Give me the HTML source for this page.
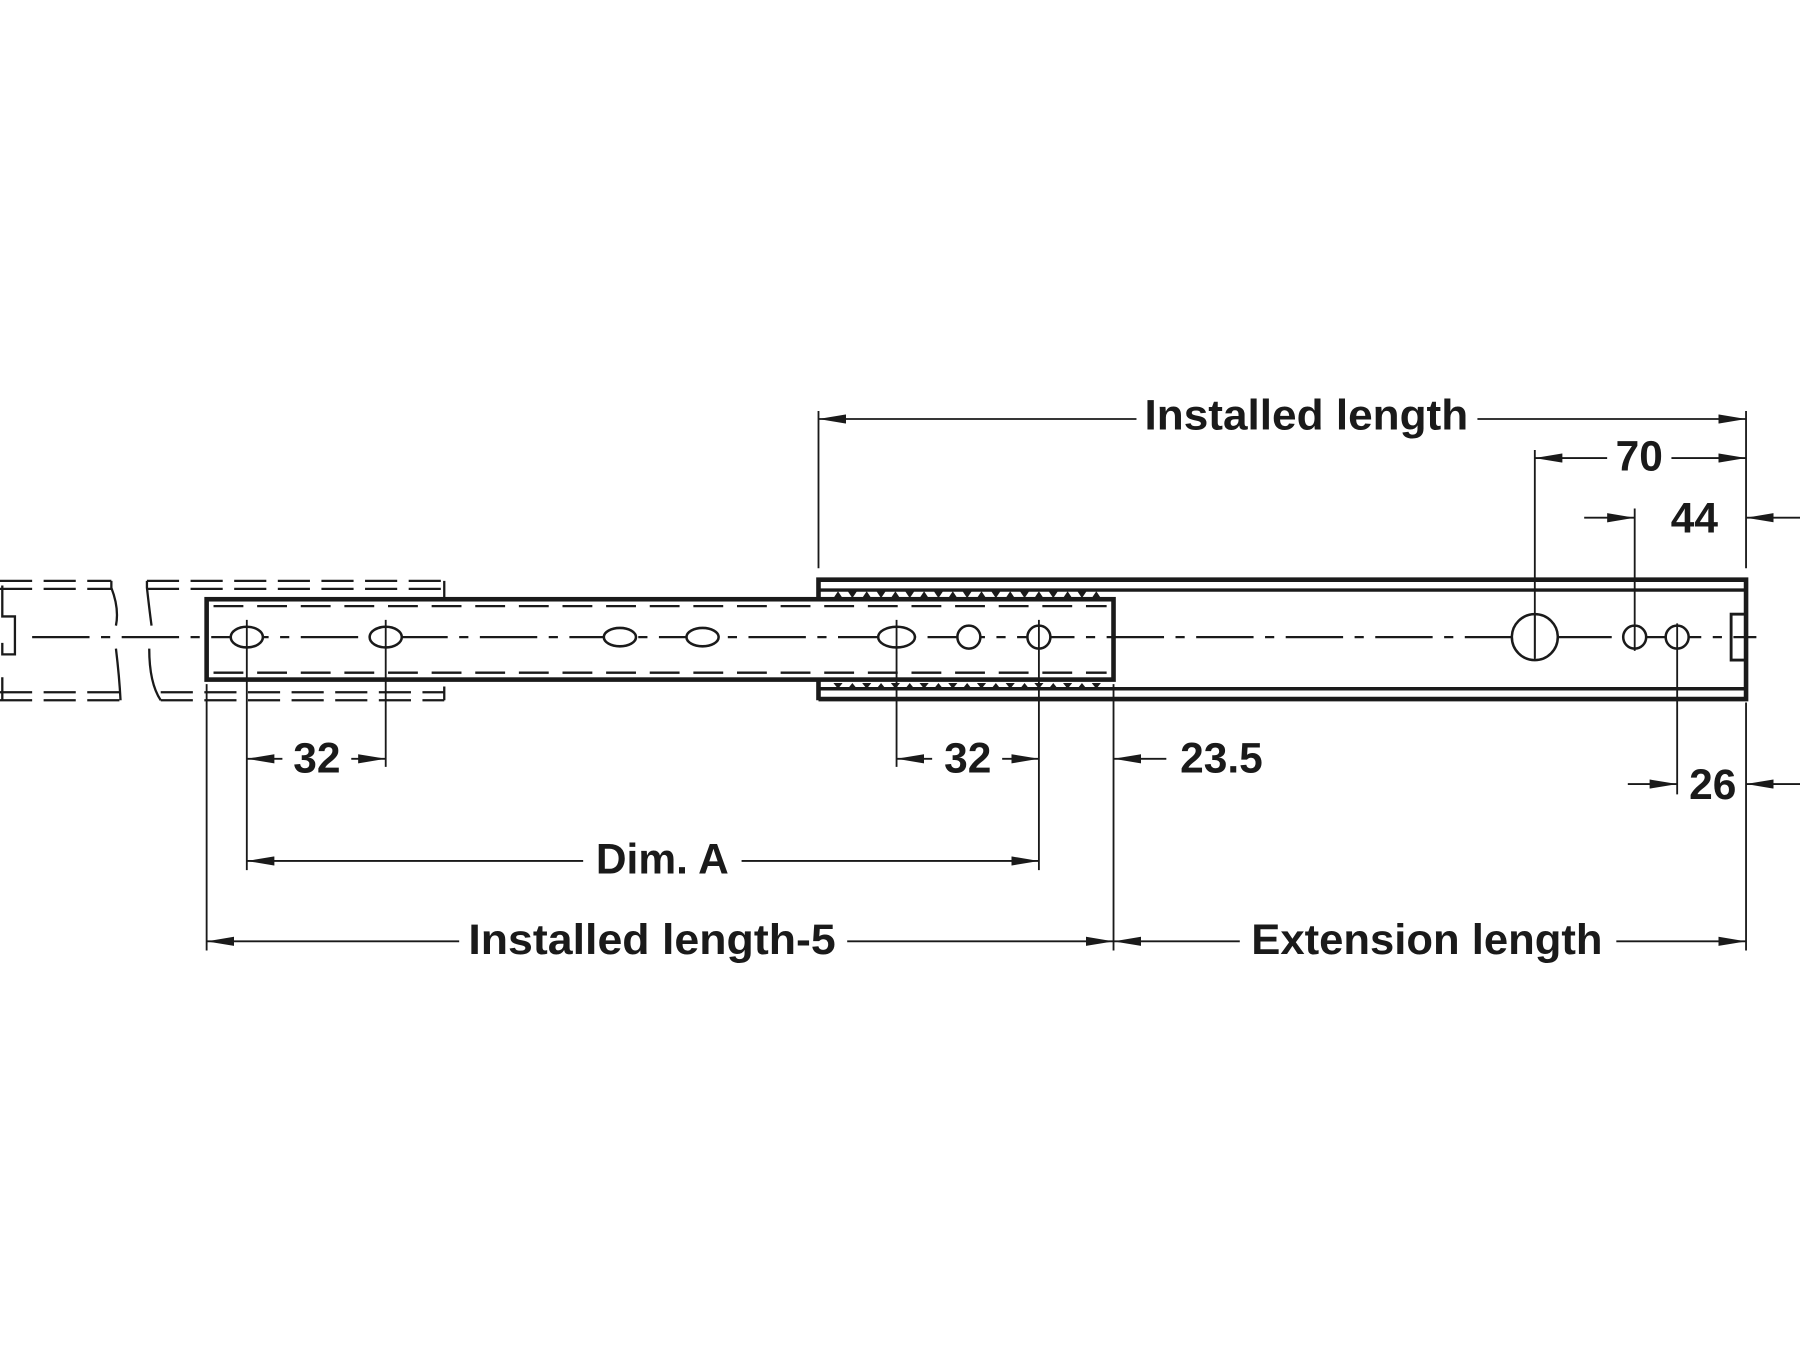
<!DOCTYPE html>
<html><head><meta charset="utf-8"><style>
html,body{margin:0;padding:0;background:#fff}
svg{display:block}
text{font-family:"Liberation Sans",Arial,sans-serif;font-weight:bold;font-size:37px;fill:#1a1a1a}
</style></head><body>
<svg width="1800" height="1350" viewBox="0 0 1568 1176" xmlns="http://www.w3.org/2000/svg">
<defs>
<marker id="a" viewBox="0 0 24 8" refX="24" refY="4" markerWidth="24" markerHeight="8" markerUnits="userSpaceOnUse" orient="auto"><path d="M0,0 L24,4 L0,8 Z" fill="#1a1a1a"/></marker>
<path id="bu" d="M-4,521 L0,515 L4,521 Z"/>
<path id="bd" d="M-4,515 L4,515 L0,521 Z"/>
<path id="cu" d="M-4,595 L4,595 L0,600 Z"/>
<path id="cd" d="M-4,600 L0,595 L4,600 Z"/>
<g id="pair"><use href="#bu"/><use href="#cu"/><use href="#bd" x="12.5"/><use href="#cd" x="12.5"/></g>
</defs>
<g stroke="#1a1a1a" fill="none">
<g stroke-width="2" stroke-dasharray="28,10">
<line x1="0" y1="506" x2="97" y2="506"/><line x1="0" y1="513" x2="97" y2="513"/>
<line x1="0" y1="603" x2="105" y2="603"/><line x1="0" y1="610" x2="105" y2="610"/>
<line x1="128" y1="506" x2="387" y2="506"/><line x1="128" y1="513" x2="387" y2="513"/>
<line x1="140" y1="603" x2="387" y2="603"/><line x1="140" y1="610" x2="387" y2="610"/>
</g>
<g stroke-width="2">
<path d="M97,506 L97,512 Q104,530 101,545 M101,565 Q104,590 105,610"/>
<path d="M128,506 L128,512 Q130,530 132,545 M130,565 Q130,595 140,610"/>
<path d="M2,510 L2,537 L13,537 L13,570 L2,570 L2,560 M2,590 L2,610"/>
<line x1="387" y1="506" x2="387" y2="610" stroke-dasharray="40,6"/>
</g>
<g stroke-width="4">
<path d="M713,610 L713,505 L1521,505 L1521,609 L713,609"/>
<line x1="713" y1="514" x2="1521" y2="514" stroke-width="3"/>
<line x1="713" y1="600" x2="1521" y2="600" stroke-width="3"/>
</g>
<rect x="1508" y="535" width="13" height="40" stroke-width="2.5"/>
<rect x="180" y="522" width="790" height="70" stroke-width="4" fill="#fff"/>
<g stroke-width="2" stroke-dasharray="26,12">
<line x1="186" y1="528" x2="964" y2="528"/><line x1="186" y1="586" x2="964" y2="586"/>
</g>
<g fill="#1a1a1a" stroke="none">
<use href="#pair" x="730"/><use href="#pair" x="755"/><use href="#pair" x="780"/><use href="#pair" x="805"/><use href="#pair" x="830"/><use href="#pair" x="855"/><use href="#pair" x="880"/><use href="#pair" x="905"/><use href="#pair" x="930"/>
<use href="#bu" x="955"/><use href="#cu" x="955"/>
</g>
<line x1="28" y1="555" x2="1530" y2="555" stroke-width="2" stroke-dasharray="50,10,8,10"/>
<g stroke-width="2.2" fill="#fff">
<ellipse cx="215" cy="555" rx="14" ry="9"/><ellipse cx="336" cy="555" rx="14" ry="9"/>
<ellipse cx="540" cy="555" rx="14" ry="8"/><ellipse cx="612" cy="555" rx="14" ry="8"/>
<ellipse cx="781" cy="555" rx="16" ry="9"/>
<circle cx="844" cy="555" r="10"/><circle cx="905" cy="555" r="10"/>
<circle cx="1337" cy="555" r="20"/><circle cx="1424" cy="555" r="10"/><circle cx="1461" cy="555" r="10"/>
</g>
<g stroke-width="1.6">
<line x1="713" y1="358" x2="713" y2="495"/>
<line x1="1521" y1="358" x2="1521" y2="495"/>
<line x1="1337" y1="392" x2="1337" y2="573"/>
<line x1="1424" y1="443" x2="1424" y2="567"/>
<line x1="1461" y1="543" x2="1461" y2="692"/>
<line x1="1521" y1="612" x2="1521" y2="828"/>
<line x1="215" y1="540" x2="215" y2="758"/>
<line x1="336" y1="540" x2="336" y2="668"/>
<line x1="781" y1="540" x2="781" y2="668"/>
<line x1="905" y1="540" x2="905" y2="758"/>
<line x1="180" y1="596" x2="180" y2="828"/>
<line x1="970" y1="596" x2="970" y2="828"/>
<line x1="844" y1="545" x2="844" y2="565" stroke="none"/>
<line x1="1337" y1="535" x2="1337" y2="575"/>
</g>
<g stroke-width="1.6">
<line x1="990" y1="365" x2="713" y2="365" marker-end="url(#a)"/>
<line x1="1287" y1="365" x2="1521" y2="365" marker-end="url(#a)"/>
<line x1="1400" y1="399" x2="1337" y2="399" marker-end="url(#a)"/>
<line x1="1456" y1="399" x2="1521" y2="399" marker-end="url(#a)"/>
<line x1="1380" y1="451" x2="1424" y2="451" marker-end="url(#a)"/>
<line x1="1568" y1="451" x2="1521" y2="451" marker-end="url(#a)"/>
<line x1="246" y1="661" x2="215" y2="661" marker-end="url(#a)"/>
<line x1="306" y1="661" x2="336" y2="661" marker-end="url(#a)"/>
<line x1="812" y1="661" x2="781" y2="661" marker-end="url(#a)"/>
<line x1="873" y1="661" x2="905" y2="661" marker-end="url(#a)"/>
<line x1="1016" y1="661" x2="970" y2="661" marker-end="url(#a)"/>
<line x1="1418" y1="683" x2="1461" y2="683" marker-end="url(#a)"/>
<line x1="1568" y1="683" x2="1521" y2="683" marker-end="url(#a)"/>
<line x1="508" y1="750" x2="215" y2="750" marker-end="url(#a)"/>
<line x1="646" y1="750" x2="905" y2="750" marker-end="url(#a)"/>
<line x1="400" y1="820" x2="180" y2="820" marker-end="url(#a)"/>
<line x1="738" y1="820" x2="970" y2="820" marker-end="url(#a)"/>
<line x1="1080" y1="820" x2="970" y2="820" marker-end="url(#a)"/>
<line x1="1408" y1="820" x2="1521" y2="820" marker-end="url(#a)"/>
</g>
</g>
<g>
<text x="1138" y="374" text-anchor="middle" textLength="282" lengthAdjust="spacingAndGlyphs">Installed length</text>
<text x="1428" y="410" text-anchor="middle">70</text>
<text x="1476" y="464" text-anchor="middle">44</text>
<text x="276" y="673" text-anchor="middle">32</text>
<text x="843" y="673" text-anchor="middle">32</text>
<text x="1064" y="673" text-anchor="middle">23.5</text>
<text x="1492" y="696" text-anchor="middle">26</text>
<text x="577" y="761" text-anchor="middle">Dim. A</text>
<text x="568" y="831" text-anchor="middle" textLength="320" lengthAdjust="spacingAndGlyphs">Installed length-5</text>
<text x="1243" y="831" text-anchor="middle" textLength="306" lengthAdjust="spacingAndGlyphs">Extension length</text>
</g>
</svg>
</body></html>
